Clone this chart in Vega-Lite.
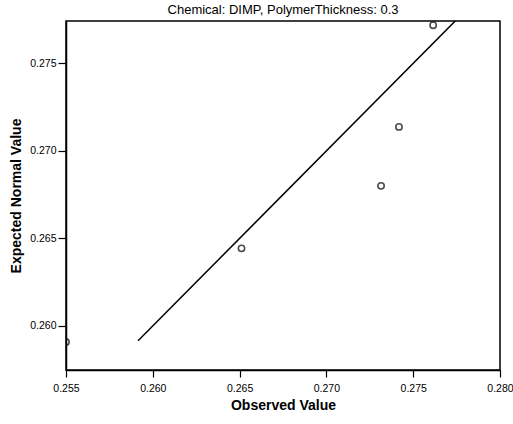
{
  "$schema": "https://vega.github.io/schema/vega-lite/v6.json",
  "autosize": "none",
  "width": 434,
  "height": 349,
  "padding": {"left": 66, "top": 21, "right": 13, "bottom": 54},
  "background": "white",
  "config": {
    "font": "Liberation Sans",
    "view": {"stroke": "black", "strokeWidth": 1.5},
    "axis": {"grid": false, "domainColor": "black", "tickColor": "black", "labelColor": "black", "titleColor": "black", "domainWidth": 1.5, "tickWidth": 1.2}
  },
  "title": {"text": "Chemical: DIMP, PolymerThickness: 0.3", "fontSize": 13, "fontWeight": "normal", "font": "Liberation Sans", "anchor": "middle", "offset": 4, "color": "black"},
  "datasets": {
    "points": [
      {"observed": 0.2550, "expected": 0.25908},
      {"observed": 0.26511, "expected": 0.26443},
      {"observed": 0.27315, "expected": 0.26800},
      {"observed": 0.27418, "expected": 0.27137},
      {"observed": 0.27615, "expected": 0.27718}
    ],
    "refline": [
      {"observed": 0.25915, "expected": 0.25915},
      {"observed": 0.2780, "expected": 0.2780}
    ]
  },
  "layer": [
    {
      "data": {"name": "refline"},
      "mark": {"type": "line", "color": "black", "strokeWidth": 1.5, "clip": true},
      "encoding": {
        "x": {"field": "observed", "type": "quantitative"},
        "y": {"field": "expected", "type": "quantitative"}
      }
    },
    {
      "data": {"name": "points"},
      "mark": {"type": "point", "shape": "circle", "filled": false, "color": "black", "strokeWidth": 1.6, "size": 40, "clip": true},
      "encoding": {
        "x": {
          "field": "observed", "type": "quantitative",
          "scale": {"domain": [0.255, 0.280], "zero": false, "nice": false},
          "axis": {"title": "Observed Value", "values": [0.255, 0.26, 0.265, 0.27, 0.275, 0.28], "format": ".3f", "labelFontSize": 10.5, "tickSize": 7, "labelPadding": 6, "titleFontSize": 14, "titleFontWeight": "bold", "titlePadding": 5, "labelFlush": false}
        },
        "y": {
          "field": "expected", "type": "quantitative",
          "scale": {"domain": [0.25748, 0.27742], "zero": false, "nice": false},
          "axis": {"title": "Expected Normal Value", "values": [0.26, 0.265, 0.27, 0.275], "format": ".3f", "labelFontSize": 10.5, "tickSize": 8, "labelPadding": 2, "titleFontSize": 14, "titleFontWeight": "bold", "titlePadding": 6}
        }
      }
    }
  ]
}
